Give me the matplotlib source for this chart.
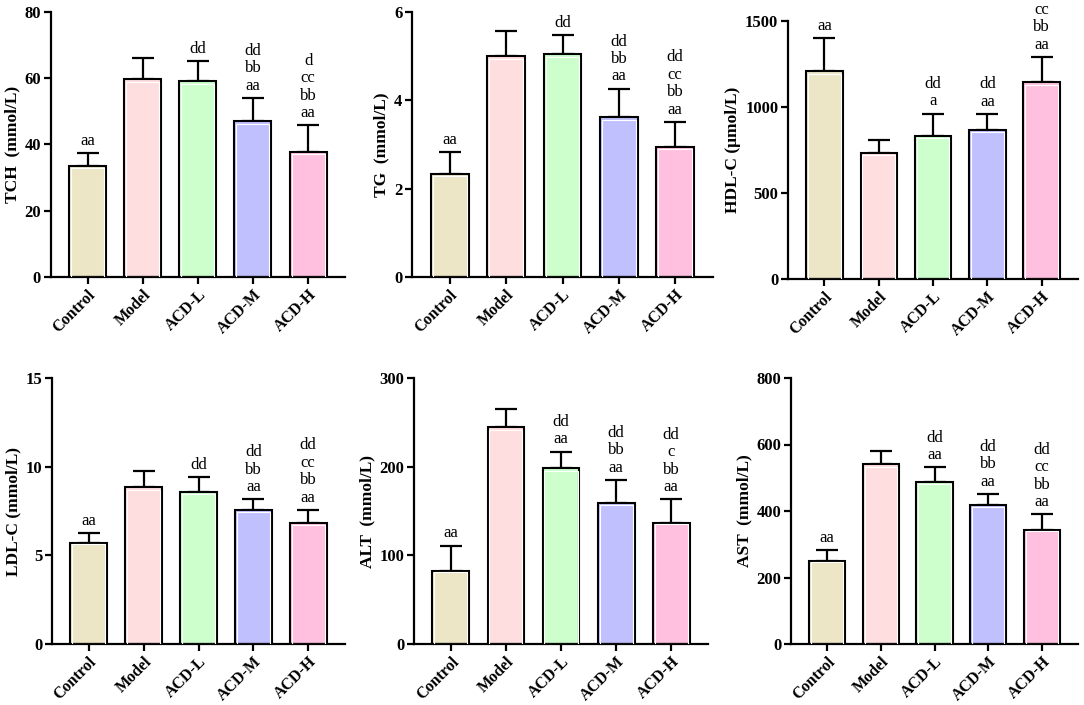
import numpy as np
import matplotlib
matplotlib.use("Agg")
import matplotlib.pyplot as plt

plt.rcParams['font.family'] = ['Liberation Serif', 'DejaVu Serif']

groups = ['Control', 'Model', 'ACD-L', 'ACD-M', 'ACD-H']
colors = ['#ECE6C6', '#FFDEDF', '#CCFFCC', '#C0C0FF', '#FFC0E0']

tch_mean = [33.5, 59.7, 59.0, 46.9, 37.6]
tch_sd = [3.9, 6.2, 6.2, 7.1, 8.1]
tch_sig = ['aa', '', 'dd', 'dd\nbb\naa', 'd\ncc\nbb\naa']

tg_mean = [2.33, 5.00, 5.04, 3.61, 2.94]
tg_sd = [0.50, 0.57, 0.43, 0.65, 0.57]
tg_sig = ['aa', '', 'dd', 'dd\nbb\naa', 'dd\ncc\nbb\naa']

hdl_mean = [1206, 734, 833, 864, 1146]
hdl_sd = [191, 74, 128, 95, 145]
hdl_sig = ['aa', '', 'dd\na', 'dd\naa', 'cc\nbb\naa']

ldl_mean = [5.72, 8.85, 8.60, 7.55, 6.83]
ldl_sd = [0.53, 0.90, 0.81, 0.62, 0.74]
ldl_sig = ['aa', '', 'dd', 'dd\nbb\naa', 'dd\ncc\nbb\naa']

alt_mean = [82.4, 245, 198, 159, 137]
alt_sd = [28.6, 20, 19, 26, 26]
alt_sig = ['aa', '', 'dd\naa', 'dd\nbb\naa', 'dd\nc\nbb\naa']

ast_mean = [249, 541, 488, 417, 344]
ast_sd = [33, 38, 44, 34, 46]
ast_sig = ['aa', '', 'dd\naa', 'dd\nbb\naa', 'dd\ncc\nbb\naa']

panels = [
    (tch_mean, tch_sd, tch_sig, 'TCH  (mmol/L)', 80, 20, [50.7, 345, 11.7, 277]),
    (tg_mean, tg_sd, tg_sig, 'TG  (mmol/L)', 6, 2, [412, 713, 11.7, 277]),
    (hdl_mean, hdl_sd, hdl_sig, 'HDL-C (\u03bcmol/L)', 1500, 500, [788, 1078, 20.7, 279]),
    (ldl_mean, ldl_sd, ldl_sig, 'LDL-C (mmol/L)', 15, 5, [52, 345, 378.3, 644]),
    (alt_mean, alt_sd, alt_sig, 'ALT  (mmol/L)', 300, 100, [414, 708, 378, 644]),
    (ast_mean, ast_sd, ast_sig, 'AST  (mmol/L)', 800, 200, [791, 1078, 378, 644]),
]

W, H = 1084, 705
fig = plt.figure(figsize=(W / 100, H / 100), dpi=100)

for mean, sd, sig, ylabel, ymax, step, (l, r, t, b) in panels:
    ax = fig.add_axes([l / W, 1 - b / H, (r - l) / W, (b - t) / H])
    x = np.arange(len(groups))
    ax.bar(x, mean, width=0.67, color=colors, edgecolor='black', linewidth=1.5, zorder=2)
    ax.bar(x, np.array(mean) * 0.985, width=0.6, color='none', edgecolor='white',
           linewidth=0.8, zorder=3)
    ax.errorbar(x, mean, yerr=[np.zeros(len(sd)), sd], fmt='none', ecolor='black',
                elinewidth=1.6, capsize=8, capthick=1.6, zorder=1)
    for xi, m, s, txt in zip(x, mean, sd, sig):
        if txt:
            ax.annotate(txt, (xi, m + s), xytext=(0, 3), textcoords='offset points',
                        ha='center', va='bottom', fontsize=12, linespacing=1.12,
                        annotation_clip=False)
    ax.set_xlim(-0.67, 4.67)
    ax.set_ylim(0, ymax)
    ax.set_yticks(np.arange(0, ymax + step / 2, step))
    ax.set_xticks(x)
    ax.set_xticklabels(groups, rotation=45, ha='right', rotation_mode='anchor',
                       fontweight='bold', fontsize=11.5)
    for lab in ax.get_yticklabels():
        lab.set_fontweight('bold')
        lab.set_fontsize(12)
    ax.set_ylabel(ylabel, fontweight='bold', fontsize=12.5, labelpad=3)
    for side in ['top', 'right']:
        ax.spines[side].set_visible(False)
    for side in ['left', 'bottom']:
        ax.spines[side].set_linewidth(1.6)
    ax.tick_params(width=1.6, length=5, direction='out', pad=2)

fig.savefig('out.png', dpi=100)
